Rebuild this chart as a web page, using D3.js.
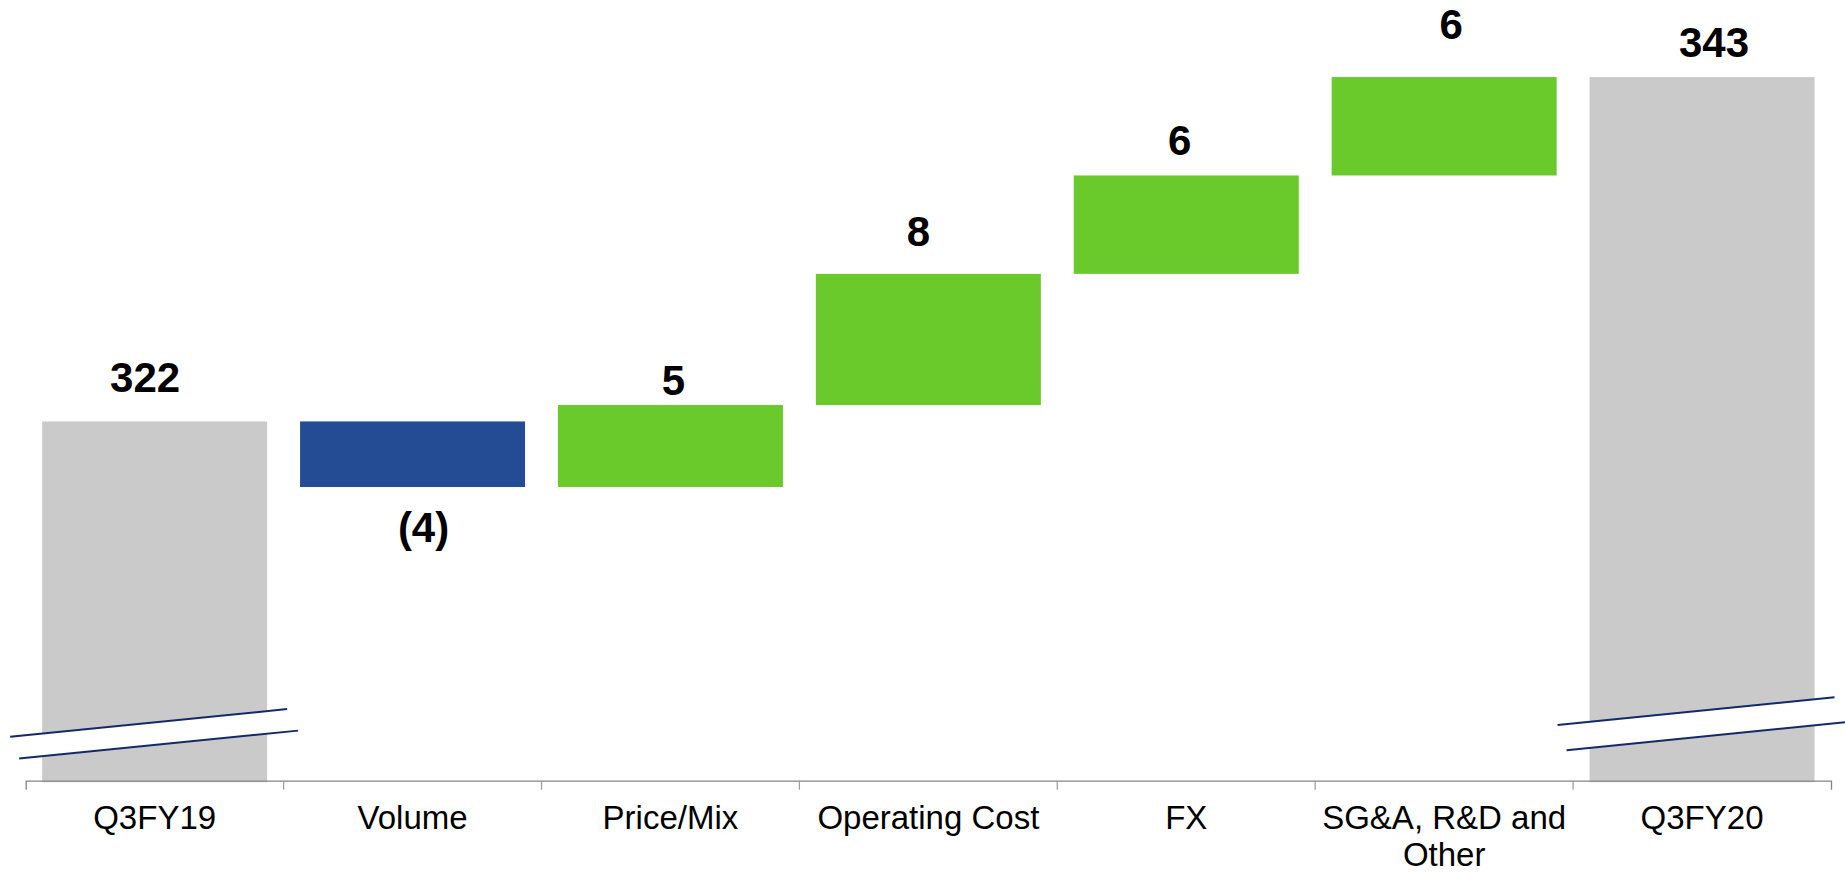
<!DOCTYPE html>
<html>
<head>
<meta charset="utf-8">
<script src="https://cdn.jsdelivr.net/npm/d3@7"></script>
<style>
  body { margin: 0; background: #fff; }
  svg { display: block; font-family: "Liberation Sans", Arial, sans-serif; }
</style>
</head>
<body>
<div id="chart"></div>
<script>
// Waterfall data
const categories = ["Q3FY19", "Volume", "Price/Mix", "Operating Cost", "FX", "SG&A, R&D and Other", "Q3FY20"];
const values = [322, -4, 5, 8, 6, 6, 343];
const kinds = ["total", "delta", "delta", "delta", "delta", "delta", "total"];

// Layout
const W = 1845, H = 873;
const axisY = 780.7;
const colors = {total: "#cacaca", up: "#6ac92b", down: "#234c94"};
// hand nudges of the value labels (dx, dy from bar edge), as in the original slide
const labelOffset = [[-9.5, -29.5], [11, 54.5], [3, -10], [-10, -28], [-6.5, -20], [7, -38], [12, -20]];

const svg = d3.select("#chart")
  .append("svg")
    .attr("width", W)
    .attr("height", H);

const x = d3.scaleBand()
  .domain(categories)
  .range([25.7, 1831])
  .paddingInner(0.1276)
  .paddingOuter(0.0638);

const y = d3.scaleLinear()
  .domain([300, 347.7])
  .range([782.2, 0]);

// build waterfall segments
let running = 0;
const bars = categories.map((c, i) => {
  let lo, hi;
  if (kinds[i] === "total") {
    lo = 300; hi = values[i]; running = values[i];
  } else {
    const next = running + values[i];
    lo = Math.min(running, next); hi = Math.max(running, next);
    running = next;
  }
  return {cat: c, value: values[i], kind: kinds[i], lo: lo, hi: hi, i: i};
});

svg.append("g")
  .selectAll("rect")
  .data(bars)
  .join("rect")
    .attr("x", d => x(d.cat))
    .attr("y", d => y(d.hi))
    .attr("width", x.bandwidth())
    .attr("height", d => y(d.lo) - y(d.hi))
    .style("fill", d => d.kind === "total" ? colors.total : (d.value < 0 ? colors.down : colors.up));

// axis break marks on the two total bars
const breaks = [
  {cat: "Q3FY19", upper: 303.65, lower: 302.27},
  {cat: "Q3FY20", upper: 304.37, lower: 302.78}
];
const slope = 0.1;
breaks.forEach(b => {
  const x0 = x(b.cat), x1 = x0 + x.bandwidth(), cx = (x0 + x1) / 2;
  const yy = (v, px) => y(v) - (px - cx) * slope;
  const l1 = [[x0 - 32, yy(b.upper, x0 - 32)], [x1 + 20, yy(b.upper, x1 + 20)]];
  const l2 = [[x0 - 23, yy(b.lower, x0 - 23)], [x1 + 31, yy(b.lower, x1 + 31)]];
  svg.append("polygon")
    .attr("points", [l1[0], l1[1], l2[1], l2[0]].map(p => p.join(",")).join(" "))
    .style("fill", "#fff");
  [l1, l2].forEach(l => {
    svg.append("line")
      .attr("x1", l[0][0]).attr("y1", l[0][1])
      .attr("x2", l[1][0]).attr("y2", l[1][1])
      .style("stroke", "#13296b")
      .style("stroke-width", 2);
  });
});

// category axis
const axis = svg.append("g")
  .attr("transform", `translate(0,${axisY})`)
  .call(d3.axisBottom(x).tickSize(0).tickSizeOuter(9));

axis.select(".domain")
  .style("stroke", "#858585")
  .style("stroke-width", 1.3);

// boundary ticks between categories
axis.selectAll(".bound")
  .data(categories.slice(1))
  .join("line")
    .attr("class", "bound")
    .attr("x1", d => x(d) - x.step() * x.paddingInner() / 2)
    .attr("x2", d => x(d) - x.step() * x.paddingInner() / 2)
    .attr("y1", 0)
    .attr("y2", 9)
    .style("stroke", "#a0a0a0")
    .style("stroke-width", 1.3);

axis.selectAll(".tick text")
  .attr("y", 48.3)
  .attr("dy", 0)
  .style("font-family", "'Liberation Sans', Arial, sans-serif")
  .style("font-size", "33px")
  .style("fill", "#000")
  .call(wrap, 250);

function wrap(texts, width) {
  texts.each(function() {
    const text = d3.select(this);
    const words = text.text().split(/\s+/);
    const yPos = text.attr("y");
    let line = [];
    let lineNo = 0;
    text.text(null);
    let tspan = text.append("tspan").attr("x", 0).attr("y", yPos);
    words.forEach(w => {
      line.push(w);
      tspan.text(line.join(" "));
      if (tspan.node().getComputedTextLength() > width && line.length > 1) {
        line.pop();
        tspan.text(line.join(" "));
        line = [w];
        lineNo++;
        tspan = text.append("tspan").attr("x", 0).attr("y", +yPos + lineNo * 36.7).text(w);
      }
    });
  });
}

// value labels
svg.append("g")
  .selectAll("text")
  .data(bars)
  .join("text")
    .attr("x", d => x(d.cat) + x.bandwidth() / 2 + labelOffset[d.i][0])
    .attr("y", d => (d.value < 0 ? y(d.lo) : y(d.hi)) + labelOffset[d.i][1])
    .attr("text-anchor", "middle")
    .style("font-size", "42px")
    .style("font-weight", "bold")
    .style("fill", "#000")
    .text(d => d.value < 0 ? `(${Math.abs(d.value)})` : d.value);
</script>
</body>
</html>
